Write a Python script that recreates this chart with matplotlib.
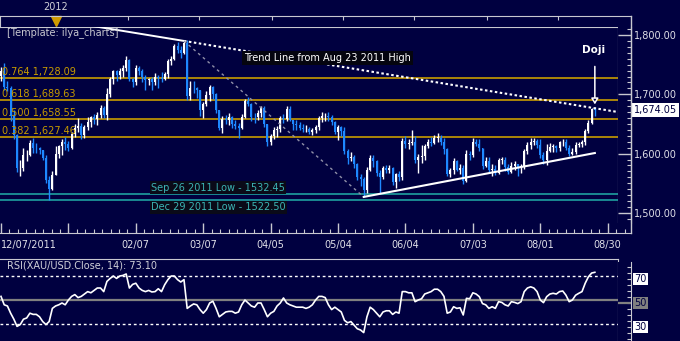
import matplotlib
matplotlib.use("Agg")
import matplotlib.pyplot as plt
from matplotlib.ticker import MultipleLocator
import numpy as np

plt.rcParams["font.family"] = "DejaVu Sans"
plt.rcParams["font.size"] = 7

# ---- data (daily XAU/USD, 12/07/2011 .. 08/24/2012) ----
first_open = 1731
closes = [
    1740, 1712, 1711, 1663, 1632, 1575, 1576, 1597, 1597, 1618,
    1610, 1609, 1606, 1593, 1556, 1541, 1564, 1600, 1612, 1620,
    1616, 1609, 1633, 1643, 1646, 1632, 1645, 1653, 1661, 1658,
    1665, 1677, 1665, 1700, 1726, 1739, 1732, 1740, 1745, 1758,
    1725, 1721, 1745, 1740, 1730, 1724, 1726, 1720, 1730, 1728,
    1725, 1735, 1757, 1760, 1781, 1775, 1770, 1786, 1697, 1711,
    1710, 1707, 1673, 1683, 1699, 1712, 1700, 1673, 1644, 1659,
    1657, 1662, 1650, 1647, 1643, 1662, 1689, 1683, 1662, 1661,
    1668, 1677, 1650, 1620, 1630, 1640, 1642, 1660, 1659, 1676,
    1657, 1650, 1649, 1643, 1641, 1642, 1637, 1640, 1645, 1660,
    1663, 1664, 1662, 1653, 1636, 1645, 1638, 1604, 1593, 1595,
    1582, 1561, 1557, 1539, 1572, 1592, 1587, 1568, 1561, 1575,
    1572, 1576, 1552, 1565, 1560, 1622, 1617, 1618, 1619, 1589,
    1595, 1596, 1612, 1619, 1618, 1627, 1627, 1619, 1608, 1566,
    1572, 1588, 1573, 1576, 1553, 1600, 1598, 1620, 1616, 1609,
    1579, 1587, 1572, 1574, 1567, 1590, 1590, 1577, 1569, 1579,
    1582, 1576, 1579, 1604, 1614, 1620, 1622, 1614, 1597, 1589,
    1605, 1611, 1612, 1609, 1619, 1620, 1609, 1600, 1602, 1615,
    1616, 1620, 1638, 1652, 1675, 1674.05,
]
highs = [
    1746, 1752, 1722, 1714, 1673, 1633, 1590, 1609, 1606, 1623,
    1626, 1618, 1611, 1605, 1597, 1562, 1570, 1613, 1615, 1625,
    1628, 1621, 1636, 1650, 1660, 1652, 1648, 1662, 1664, 1667,
    1670, 1682, 1680, 1710, 1730, 1741, 1741, 1745, 1750, 1764,
    1760, 1728, 1750, 1747, 1742, 1732, 1728, 1730, 1736, 1733,
    1738, 1738, 1760, 1765, 1785, 1789, 1781, 1790, 1791, 1723,
    1723, 1712, 1708, 1687, 1705, 1716, 1714, 1703, 1673, 1664,
    1665, 1668, 1664, 1656, 1652, 1666, 1692, 1696, 1686, 1668,
    1673, 1680, 1680, 1650, 1633, 1645, 1646, 1664, 1666, 1680,
    1680, 1655, 1656, 1653, 1650, 1648, 1645, 1644, 1649, 1664,
    1670, 1668, 1670, 1665, 1655, 1648, 1647, 1645, 1607, 1602,
    1598, 1584, 1566, 1560, 1577, 1597, 1597, 1590, 1572, 1579,
    1580, 1580, 1578, 1568, 1571, 1626, 1630, 1624, 1640, 1630,
    1600, 1614, 1617, 1625, 1628, 1631, 1634, 1632, 1627, 1610,
    1576, 1592, 1589, 1582, 1580, 1606, 1605, 1626, 1624, 1625,
    1608, 1594, 1594, 1582, 1580, 1592, 1595, 1595, 1582, 1586,
    1587, 1580, 1582, 1608, 1620, 1626, 1627, 1625, 1624, 1602,
    1617, 1618, 1617, 1614, 1622, 1624, 1624, 1614, 1610, 1619,
    1620, 1623, 1642, 1657, 1677, 1679,
]
lows = [
    1722, 1708, 1705, 1655, 1625, 1569, 1562, 1570, 1588, 1596,
    1601, 1601, 1599, 1589, 1550, 1522.5, 1539, 1565, 1593, 1598,
    1606, 1604, 1608, 1628, 1636, 1624, 1627, 1640, 1645, 1650,
    1648, 1660, 1660, 1656, 1695, 1718, 1722, 1725, 1730, 1740,
    1722, 1712, 1716, 1733, 1720, 1707, 1715, 1708, 1716, 1710,
    1720, 1724, 1728, 1750, 1758, 1770, 1762, 1768, 1690, 1690,
    1703, 1693, 1663, 1660, 1681, 1689, 1692, 1668, 1640, 1635,
    1650, 1648, 1643, 1641, 1627, 1641, 1660, 1680, 1655, 1651,
    1656, 1662, 1645, 1612, 1614, 1625, 1628, 1636, 1652, 1655,
    1655, 1640, 1640, 1639, 1636, 1637, 1633, 1632, 1635, 1640,
    1654, 1655, 1655, 1648, 1633, 1623, 1630, 1600, 1583, 1587,
    1575, 1556, 1545, 1527, 1534, 1570, 1578, 1562, 1533, 1557,
    1567, 1568, 1547, 1542, 1553, 1555, 1610, 1608, 1615, 1585,
    1568, 1584, 1590, 1610, 1612, 1616, 1620, 1615, 1600, 1563,
    1561, 1565, 1570, 1566, 1548, 1552, 1589, 1595, 1612, 1604,
    1574, 1578, 1567, 1563, 1564, 1565, 1582, 1570, 1565, 1567,
    1572, 1563, 1568, 1574, 1600, 1607, 1614, 1610, 1592, 1582,
    1581, 1603, 1603, 1603, 1605, 1612, 1606, 1596, 1597, 1600,
    1611, 1611, 1615, 1634, 1650, 1664,
]
rsi = [
    53, 46, 45, 39, 34, 28, 29.5, 34, 35, 39,
    38, 38, 36, 32, 29.5, 32, 43, 45, 46, 47.5,
    46, 50, 53, 54.5, 52, 53, 55, 57, 56, 58,
    60, 60, 57, 65.5, 68, 70, 68, 70, 70.5, 71.7,
    60, 63, 64, 60, 58, 57, 58, 56.7, 57, 59.4,
    57, 62.8, 67, 70, 70, 67, 65, 67, 43, 45,
    46.7, 46, 42, 39, 42, 47.5, 49, 43, 36, 38,
    40, 40.5, 40.5, 39, 40, 46, 50, 47.5, 45, 44,
    47.5, 47.5, 42, 36, 39, 40.5, 45, 47.5, 51.7, 47.5,
    46, 45, 44, 44, 44, 43, 44, 46, 50, 53,
    53, 52, 46, 42, 44, 42, 40, 33, 31, 32,
    29, 26, 25, 22.8, 36, 44, 42, 39, 36, 40,
    41, 41, 38, 40, 39, 57, 57, 56, 56, 48.6,
    50, 51, 55, 56, 57, 59, 59, 57, 53, 39,
    40, 44.4, 43, 43.5, 37.5, 51.4, 51, 56, 55, 52.8,
    47, 46, 43, 44.4, 43, 48.6, 48, 46, 45, 48.6,
    48, 47, 48.6, 57, 60, 61, 60, 57, 50, 47.8,
    52.8, 55, 55.6, 55, 57, 57.5, 54, 48.6, 50, 54,
    55.6, 57, 64, 69.4, 72.5, 73.1,
]

fib_ratios = ["0.764", "0.618", "0.500", "0.382"]
fib_levels = [1728.09, 1689.63, 1658.55, 1627.46]
low_levels = [1532.45, 1522.50]
low_labels = ["Sep 26 2011 Low - 1532.45", "Dec 29 2011 Low - 1522.50"]

# trend lines (bar index, price)
resist_pts = ([-80, 57], [1911.46, 1790.0])   # Aug 23 2011 high -> Feb 28 high
channel_pts = ([57, 113], [1790.0, 1527.0])
support_pts = ([113, 185], [1527.0, 1601.0])

tick_pos = [0, 21, 42, 63, 84, 105, 126, 147, 168, 189]
tick_labels = ["12/07/2011", "", "02/07", "03/07", "04/05", "05/04",
               "06/04", "07/03", "08/01", "08/30"]
top_ticks = [39.6, 61.7, 84.4, 106.5, 128.7, 151.4, 173.5]
year_bar = 17
price_ticks = [1500, 1600, 1700, 1800]

# ---- styling ----
BG = "#000040"
FRAME = "#c8c8d0"
TXT = "#e0e0e8"
BLUE = "#1e88ff"
GOLD = "#c89b00"
TEAL = "#1fa0a0"
TEAL_TXT = "#3cb4b4"

W, H = 680, 341
BAR_PX = 3.21


def bar_at(px):
    return (px - 1) / BAR_PX


fig = plt.figure(figsize=(W / 100, H / 100), dpi=100, facecolor=BG)


def px_axes(x0, y0, x1, y1):
    a = fig.add_axes([x0 / W, 1 - y1 / H, (x1 - x0) / W, (y1 - y0) / H])
    a.set_facecolor(BG)
    for s in a.spines.values():
        s.set_visible(False)
        s.set_color(FRAME)
    a.set_xticks([])
    a.set_yticks([])
    return a


def ftext(px, py, s, **kw):
    fig.text(px / W, 1 - py / H, s, va="center", **kw)


idx = np.arange(len(closes))
c = np.array(closes, float)
o = np.concatenate([[first_open], c[:-1]])
hi = np.maximum(np.array(highs, float), np.maximum(o, c))
lo = np.minimum(np.array(lows, float), np.minimum(o, c))
col = np.where(c >= o, "white", BLUE)

# ---- main price panel ----
ax = px_axes(0, 27, 618, 223)
ax.set_xlim(bar_at(0), bar_at(618))
ax.set_ylim(1483, 1813.5)
ax.spines["top"].set_visible(True)
ax.spines["right"].set_visible(True)

for r, v in zip(fib_ratios, fib_levels):
    ax.axhline(v, color=GOLD, lw=1.2, zorder=2)
    ax.annotate(f"{r} {v:,.2f}", xy=(0, v), xycoords=("axes fraction", "data"),
                xytext=(1.5, 4.3), textcoords="offset points",
                ha="left", va="center", color=GOLD, fontsize=7, zorder=6)

for k, (v, lab) in enumerate(zip(low_levels, low_labels)):
    ax.axhline(v, color=TEAL, lw=1.2, zorder=2)
    dy = 4.3 if k == 0 else -5.4
    ax.annotate(lab, xy=(bar_at(151), v), xytext=(0, dy), textcoords="offset points",
                ha="left", va="center", color=TEAL_TXT, fontsize=7, zorder=6,
                bbox=dict(boxstyle="square,pad=0.15", fc="#0a0a18", ec="none"))

ax.vlines(idx, lo, hi, colors=col, lw=1, zorder=3)
ax.bar(idx, np.maximum(np.abs(c - o), 1.0), bottom=np.minimum(o, c), width=0.62,
       color=col, linewidth=0, zorder=4)

slope = (resist_pts[1][1] - resist_pts[1][0]) / (resist_pts[0][1] - resist_pts[0][0])
x_end = bar_at(618)
ax.plot(resist_pts[0], resist_pts[1], color="white", lw=1.4, zorder=5)
ax.plot([resist_pts[0][1], x_end],
        [resist_pts[1][1], resist_pts[1][1] + slope * (x_end - resist_pts[0][1])],
        color="white", lw=1.5, ls=(0, (1.2, 1.2)), zorder=5)
ax.plot(channel_pts[0], channel_pts[1], color="#9090a8", lw=1, ls=(0, (2, 2.5)), zorder=5)
ax.plot(support_pts[0], support_pts[1], color="white", lw=1.5, zorder=5)

ax.annotate("", xy=(idx[-1], hi[-1] + 4), xytext=(idx[-1], 1747),
            arrowprops=dict(arrowstyle="-|>,head_length=0.5,head_width=0.3",
                            ec="white", fc=BG, lw=1.1, shrinkA=0, shrinkB=0), zorder=7)

ftext(594, 50, "Doji", ha="center", color="white", fontsize=7.5, fontweight="bold")
ftext(244, 58, "Trend Line from Aug 23 2011 High", ha="left", color="white", fontsize=7,
      bbox=dict(boxstyle="square,pad=0.2", fc="#05050f", ec="none"))
ftext(7, 33, "[Template: ilya_charts]", ha="left", color="#c8c8d0", fontsize=7)

# price scale
axp = px_axes(618, 27, 631, 223)
axp.set_ylim(ax.get_ylim())
axp.set_xlim(0, 1)
axp.spines["right"].set_visible(True)
axp.yaxis.tick_right()
axp.set_yticks(price_ticks)
axp.set_yticklabels([f"{v:,.2f}" for v in price_ticks])
axp.yaxis.set_minor_locator(MultipleLocator(10))
axp.tick_params(axis="y", which="major", direction="in", length=9.4, width=1,
                color=FRAME, labelcolor=TXT, labelsize=7, pad=2)
axp.tick_params(axis="y", which="minor", direction="in", length=3, width=0.8, color=FRAME)
axp.annotate(f"{c[-1]:,.2f}", xy=(1, c[-1]), xycoords=("axes fraction", "data"),
             xytext=(2.2, 0), textcoords="offset points", ha="left", va="center",
             color=BG, fontsize=7,
             bbox=dict(boxstyle="square,pad=0.2", fc="white", ec="none"))

# date strip
axx = px_axes(0, 223, 631, 233)
axx.set_xlim(bar_at(0), bar_at(631))
axx.spines["bottom"].set_visible(True)
axx.set_xticks(tick_pos)
axx.set_xticklabels(tick_labels)
axx.xaxis.set_minor_locator(MultipleLocator(21 / 8))
axx.tick_params(axis="x", which="major", direction="in", length=7.2, width=1,
                color=FRAME, labelcolor=TXT, labelsize=7, pad=5)
axx.tick_params(axis="x", which="minor", direction="in", length=3, width=0.8, color=FRAME)
axx.get_xticklabels()[0].set_horizontalalignment("left")

# top strip with year marker
axt = px_axes(0, 16, 631, 27)
axt.set_xlim(bar_at(0), bar_at(631))
axt.set_ylim(0, 1)
axt.spines["top"].set_visible(True)
axt.spines["left"].set_visible(True)
axt.xaxis.tick_top()
axt.set_xticks(top_ticks)
axt.tick_params(axis="x", which="major", direction="in", length=3, width=0.8,
                color=FRAME, labeltop=False)
axt.plot([year_bar], [0.55], marker="v", ms=7, color="#d09a00", mec="#d09a00",
         clip_on=False)
axt.text(year_bar, 1.8, "2012", ha="center", va="center", color="#d0d0d8", fontsize=7,
         transform=axt.get_xaxis_transform())

# ---- RSI panel ----
axr = px_axes(0, 259, 618, 341)
axr.set_xlim(ax.get_xlim())
axr.set_ylim(15.8, 84.2)
axr.spines["top"].set_visible(True)
axr.spines["right"].set_visible(True)
for lvl in (30, 70):
    axr.axhline(lvl, color="white", lw=1, ls=(0, (2, 2)), zorder=2)
axr.axhline(50, color="#808080", lw=1.6, zorder=2)
axr.plot(idx, rsi, color="white", lw=1.2, zorder=4)
ftext(7, 265.5, f"RSI(XAU/USD.Close, 14): {rsi[-1]:.2f}", ha="left", color="#d0d0d8", fontsize=7)

axrs = px_axes(618, 262, 631, 341)
axrs.set_ylim(15.8 + 3 / 1.2, 84.2)
axrs.set_xlim(0, 1)
axrs.spines["right"].set_visible(True)
axrs.yaxis.tick_right()
axrs.yaxis.set_minor_locator(MultipleLocator(5))
axrs.tick_params(axis="y", which="minor", direction="in", length=3, width=0.8, color=FRAME)
axrs.axhline(50, color="#808080", lw=1.6)
for lvl, fc in ((70, "white"), (50, "#808080"), (30, "white")):
    axrs.annotate(str(lvl), xy=(1, lvl), xycoords=("axes fraction", "data"),
                  xytext=(2.5, 0), textcoords="offset points", ha="left", va="center",
                  color=BG, fontsize=7,
                  bbox=dict(boxstyle="square,pad=0.12", fc=fc, ec="none"))

# outer frame pieces
ov = fig.add_axes([0, 0, 1, 1])
ov.set_xlim(0, W)
ov.set_ylim(H, 0)
ov.axis("off")
ov.patch.set_alpha(0)
ov.plot([631, 631], [16, 233], color=FRAME, lw=1)

fig.savefig("out.png", dpi=100, facecolor=BG)
